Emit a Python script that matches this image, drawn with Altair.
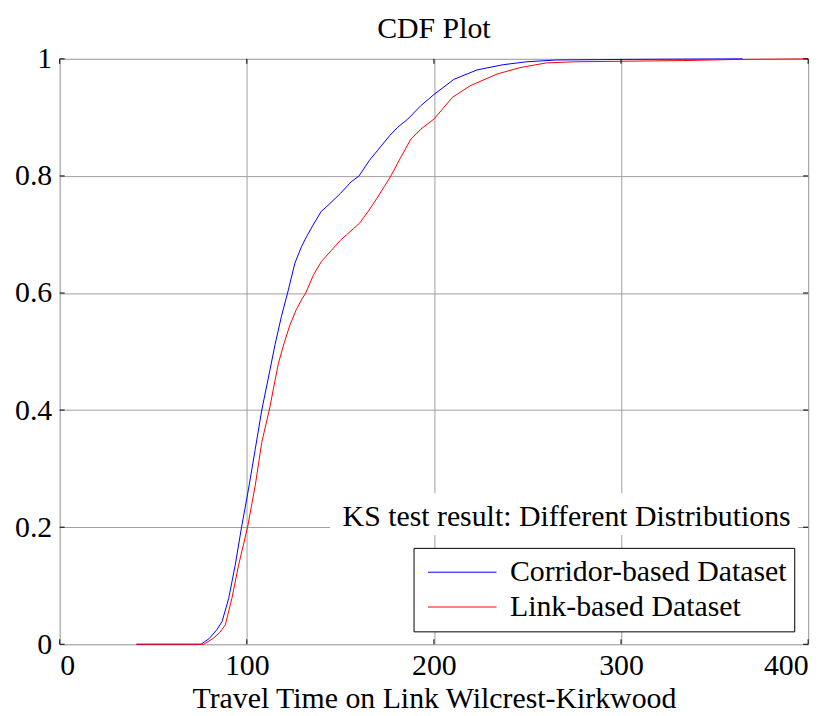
import altair as alt
import pandas as pd

# ---------------- data ----------------
corridor_x = [41, 75.5, 80, 84, 86.8, 90.3, 93.8, 97.2, 100.9, 104.5, 108, 112.4, 115.1,
              118.5, 121.8, 125.7, 129.2, 131.9, 135.4, 139.7, 142.5, 150, 155.8, 160,
              165.4, 170, 176.4, 180.6, 186, 193, 200, 210.7, 223, 237, 249.7, 265.6,
              300, 365]
corridor_y = [0, 0, 0.01, 0.025, 0.039, 0.078, 0.135, 0.2, 0.265, 0.333, 0.4, 0.469, 0.512,
              0.56, 0.6, 0.651, 0.679, 0.696, 0.716, 0.739, 0.747, 0.77, 0.79, 0.8,
              0.826, 0.844, 0.869, 0.883, 0.897, 0.92, 0.939, 0.965, 0.981, 0.99, 0.995, 0.998,
              0.999, 1.0]

link_x = [41, 77, 82, 85.5, 88.5, 92, 95.6, 100.4, 104.5, 108, 112, 116.9, 120, 123,
          126.5, 129.5, 131.5, 135.5, 139.9, 145, 150, 153.2, 157, 160.2, 165, 170,
          173.5, 177, 182, 187.7, 193, 200, 209.8, 219.4, 233.7, 246, 260, 276, 333,
          363, 400]
link_y = [0, 0, 0.01, 0.02, 0.033, 0.078, 0.135, 0.2, 0.271, 0.345, 0.4, 0.48, 0.515, 0.545,
          0.572, 0.59, 0.6, 0.63, 0.654, 0.672, 0.69, 0.699, 0.71, 0.719, 0.74, 0.764,
          0.782, 0.8, 0.83, 0.863, 0.88, 0.897, 0.934, 0.954, 0.974, 0.985, 0.993, 0.995, 0.997,
          0.999, 1.0]

series_names = ["Corridor-based Dataset", "Link-based Dataset"]
series_colors = ["#0000ff", "#ff0000"]
x_ticks = [0, 100, 200, 300, 400]
y_ticks = [0, 0.2, 0.4, 0.6, 0.8, 1]
chart_title = "CDF Plot"
x_title = "Travel Time on Link Wilcrest-Kirkwood"
ks_text = "KS test result: Different Distributions"

# ---------------- tables ----------------
rows = []
for name, xs_, ys_ in [(series_names[0], corridor_x, corridor_y),
                       (series_names[1], link_x, link_y)]:
    for i, (a, b) in enumerate(zip(xs_, ys_)):
        rows.append({"series": name, "x": a, "y": b, "order": i})
df = pd.DataFrame(rows)
xt_df = pd.DataFrame({"t": x_ticks})
yt_df = pd.DataFrame({"t": y_ticks})

W, H = 753, 589
FONT = "Liberation Serif"
FS = 30
TICK = 5

xs = alt.Scale(domain=[0, 400], nice=False, zero=False)
ys = alt.Scale(domain=[0, 1], nice=False, zero=False)

color = alt.Color(
    "series:N",
    scale=alt.Scale(domain=series_names, range=series_colors),
    legend=alt.Legend(
        orient="none", legendX=356, legendY=492, title=None,
        symbolType="stroke", symbolSize=4761, symbolStrokeWidth=1, symbolOffset=7,
        clipHeight=35, rowPadding=0, padding=7, labelOffset=13,
        labelFont=FONT, labelFontSize=FS, labelColor="black", labelLimit=500,
        strokeColor="black", fillColor="white", labelBaseline="middle",
    ),
)

lines = alt.Chart(df).mark_line(strokeWidth=1).encode(
    x=alt.X("x:Q", scale=xs, axis=alt.Axis(
        values=x_ticks, format="d", grid=True, gridColor="#9e9e9e", gridWidth=1,
        ticks=False, tickSize=0, domain=False, labelPadding=6,
        labelFont=FONT, labelFontSize=FS, labelColor="black",
        title=x_title, titleFont=FONT, titleFontSize=FS, titleFontWeight="normal",
        titleColor="black", titleBaseline="alphabetic", titleY=64)),
    y=alt.Y("y:Q", scale=ys, axis=alt.Axis(
        values=y_ticks, format="~g", grid=True, gridColor="#9e9e9e", gridWidth=1,
        ticks=False, tickSize=0, domain=False, labelPadding=8,
        labelFont=FONT, labelFontSize=FS, labelColor="black", title=None)),
    color=color,
    order="order:Q",
)

# inward tick marks on all four sides, positioned through the shared scales
tick_bottom = alt.Chart(xt_df).mark_rule(color="black", strokeWidth=1).encode(
    x=alt.X("t:Q", scale=xs), y=alt.value(H), y2=alt.value(H - TICK))
tick_top = alt.Chart(xt_df).mark_rule(color="black", strokeWidth=1).encode(
    x=alt.X("t:Q", scale=xs), y=alt.value(0), y2=alt.value(TICK))
tick_left = alt.Chart(yt_df).mark_rule(color="black", strokeWidth=1).encode(
    y=alt.Y("t:Q", scale=ys), x=alt.value(0), x2=alt.value(TICK))
tick_right = alt.Chart(yt_df).mark_rule(color="black", strokeWidth=1).encode(
    y=alt.Y("t:Q", scale=ys), x=alt.value(W), x2=alt.value(W - TICK))

ks_df = pd.DataFrame({"label": [ks_text]})
ks_bg = alt.Chart(ks_df).mark_rect(color="white").encode(
    x=alt.value(272), x2=alt.value(743), y=alt.value(437), y2=alt.value(479))
ks_label = alt.Chart(ks_df).mark_text(
    font=FONT, fontSize=FS, align="center", baseline="alphabetic", color="black"
).encode(x=alt.value(510), y=alt.value(470), text="label:N")

title_df = pd.DataFrame({"label": [chart_title]})
title_mark = alt.Chart(title_df).mark_text(
    font=FONT, fontSize=FS, align="center", baseline="alphabetic", color="black"
).encode(x=alt.value(W / 2), y=alt.value(-21), text="label:N")

chart = alt.layer(
    lines, tick_bottom, tick_top, tick_left, tick_right, ks_bg, ks_label, title_mark
).properties(
    width=W, height=H,
    autosize=alt.AutoSizeParams(type="none"),
    padding={"left": 52, "top": 49, "right": 24, "bottom": 68},
).configure_view(stroke="black", strokeWidth=1.2).configure(background="white")

chart.save("out.html", embed_options={"renderer": "svg", "actions": False})
